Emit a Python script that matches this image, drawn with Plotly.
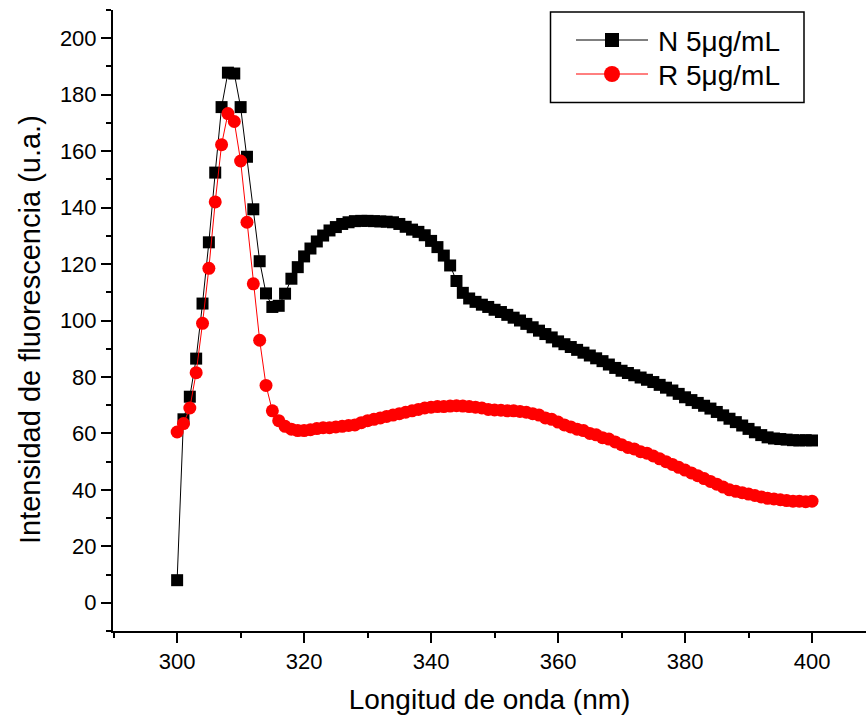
import plotly.graph_objects as go

# Emission wavelength grid (nm), 1 nm steps
wavelength = list(range(300, 401))

# Fluorescence intensity (a.u.) for sample N at 5 µg/mL
intensity_n = [
    8, 65, 73, 86.5, 106, 127.7, 152.4, 175.6, 187.8, 187.5,
    175.6, 158, 139.4, 121, 109.6, 104.8, 105.2, 109.5, 114.8, 118.9,
    122.7, 125.5, 128, 130.1, 131.9, 133.1, 134.2, 134.8, 135.2, 135.3,
    135.3, 135.2, 135.1, 135, 134.8, 134.2, 133.2, 132.2, 131.4, 130.2,
    128.2, 126, 123, 119.5, 114, 109.8, 107.8, 106.6, 105.6, 104.8,
    103.8, 103, 102, 101, 100, 98.8, 97.6, 96.4, 95.2, 94,
    92.6, 91.6, 90.6, 89.6, 88.6, 87.6, 86.6, 85.6, 84.4, 83.2,
    82.2, 81.4, 80.6, 79.8, 79, 78.2, 77.2, 76.2, 75.2, 74,
    72.8, 71.8, 70.8, 69.8, 68.8, 67.6, 66.4, 65.2, 64, 62.8,
    61.6, 60.4, 59.4, 58.6, 58.2, 58, 57.8, 57.6, 57.5, 57.6,
    57.5,
]

# Fluorescence intensity (a.u.) for sample R at 5 µg/mL
intensity_r = [
    60.5, 63.5, 69, 81.5, 99, 118.5, 142, 162.3, 173.3, 170.5,
    156.5, 134.8, 113, 93, 77, 68, 64.5, 62.5, 61.5, 61,
    61, 61.3, 61.7, 62, 62, 62.3, 62.5, 62.8, 63, 63.8,
    64.5, 65, 65.5, 66, 66.5, 67, 67.5, 68, 68.5, 69,
    69.3, 69.5, 69.5, 69.7, 69.8, 69.7, 69.5, 69.3, 69, 68.5,
    68.3, 68.2, 68, 68, 67.8, 67.5, 67, 66.5, 65.5, 65,
    64, 63, 62.3, 61.5, 61, 60, 59.5, 58.5, 58, 57,
    56, 55, 54.5, 53.5, 53, 52, 51, 50, 49, 48,
    47, 46, 45, 44, 43, 42, 41, 40, 39.5, 39,
    38.5, 38, 37.5, 37, 36.8, 36.5, 36.2, 36, 36, 35.8,
    36,
]

series_names = ["N 5\u03bcg/mL", "R 5\u03bcg/mL"]
series_colors = ["black", "red"]
series_symbols = ["square", "circle"]

FONT = "Liberation Sans, Arial, sans-serif"

fig = go.Figure()
for name, ys, color, symbol, msize in zip(
    series_names, [intensity_n, intensity_r], series_colors, series_symbols, [12, 13]
):
    fig.add_trace(go.Scatter(
        x=wavelength, y=ys, name=name,
        mode="lines+markers",
        line=dict(color=color, width=1),
        marker=dict(symbol=symbol, size=msize, color=color),
        showlegend=False,
    ))

axis_common = dict(
    showgrid=False, zeroline=False,
    showline=True, linecolor="black", linewidth=2,
    ticks="outside", ticklen=10, tickwidth=2, tickcolor="black",
    tickfont=dict(family=FONT, size=22, color="black"),
    minor=dict(ticks="outside", ticklen=5, tickwidth=2, tickcolor="black", dtick=10),
)

fig.update_xaxes(
    **axis_common,
    range=[289.9, 408.5], dtick=20, tick0=300,
    title=dict(text="Longitud de onda (nm)", font=dict(family=FONT, size=28, color="black"), standoff=16),
)
fig.update_yaxes(
    **axis_common,
    range=[-10, 210], dtick=20, tick0=0,
)

# Pixel-space helpers for the plot area (converted to paper fractions)
L, R_, T, B = 113, 866, 10, 631
W, H = R_ - L, B - T


def px(x):
    return (x - L) / W


def py(y):
    return (B - y) / H


annotations = [dict(
    text="Intensidad de fluorescencia (u.a.)", xref="paper", yref="paper",
    x=px(30), y=py(330), xanchor="center", yanchor="middle", textangle=-90,
    showarrow=False, font=dict(family=FONT, size=29, color="black"),
)]

# Legend box with line + marker keys
shapes = [dict(
    type="rect", xref="paper", yref="paper",
    x0=px(550.5), x1=px(804), y0=py(12), y1=py(102.5),
    line=dict(color="black", width=1.5), fillcolor="white", layer="above",
)]
rows_y = [40, 74]
for name, color, symbol, yrow in zip(series_names, series_colors, series_symbols, rows_y):
    shapes.append(dict(
        type="line", xref="paper", yref="paper",
        x0=px(576), x1=px(648), y0=py(yrow), y1=py(yrow),
        line=dict(color=color, width=1), layer="above",
    ))
    half = 7 if symbol == "square" else 8
    shapes.append(dict(
        type="rect" if symbol == "square" else "circle",
        xref="paper", yref="paper",
        x0=px(612 - half), x1=px(612 + half), y0=py(yrow - half), y1=py(yrow + half),
        line=dict(color=color, width=0), fillcolor=color, layer="above",
    ))
    annotations.append(dict(
        text=name, xref="paper", yref="paper",
        x=px(656), y=py(yrow + 1), xanchor="left", yanchor="middle",
        showarrow=False, font=dict(family=FONT, size=28, color="black"),
    ))

fig.update_layout(
    width=866, height=724,
    margin=dict(l=113, r=0, t=10, b=93),
    plot_bgcolor="white", paper_bgcolor="white",
    shapes=shapes, annotations=annotations,
    showlegend=False,
)

fig.write_html("out.html")
